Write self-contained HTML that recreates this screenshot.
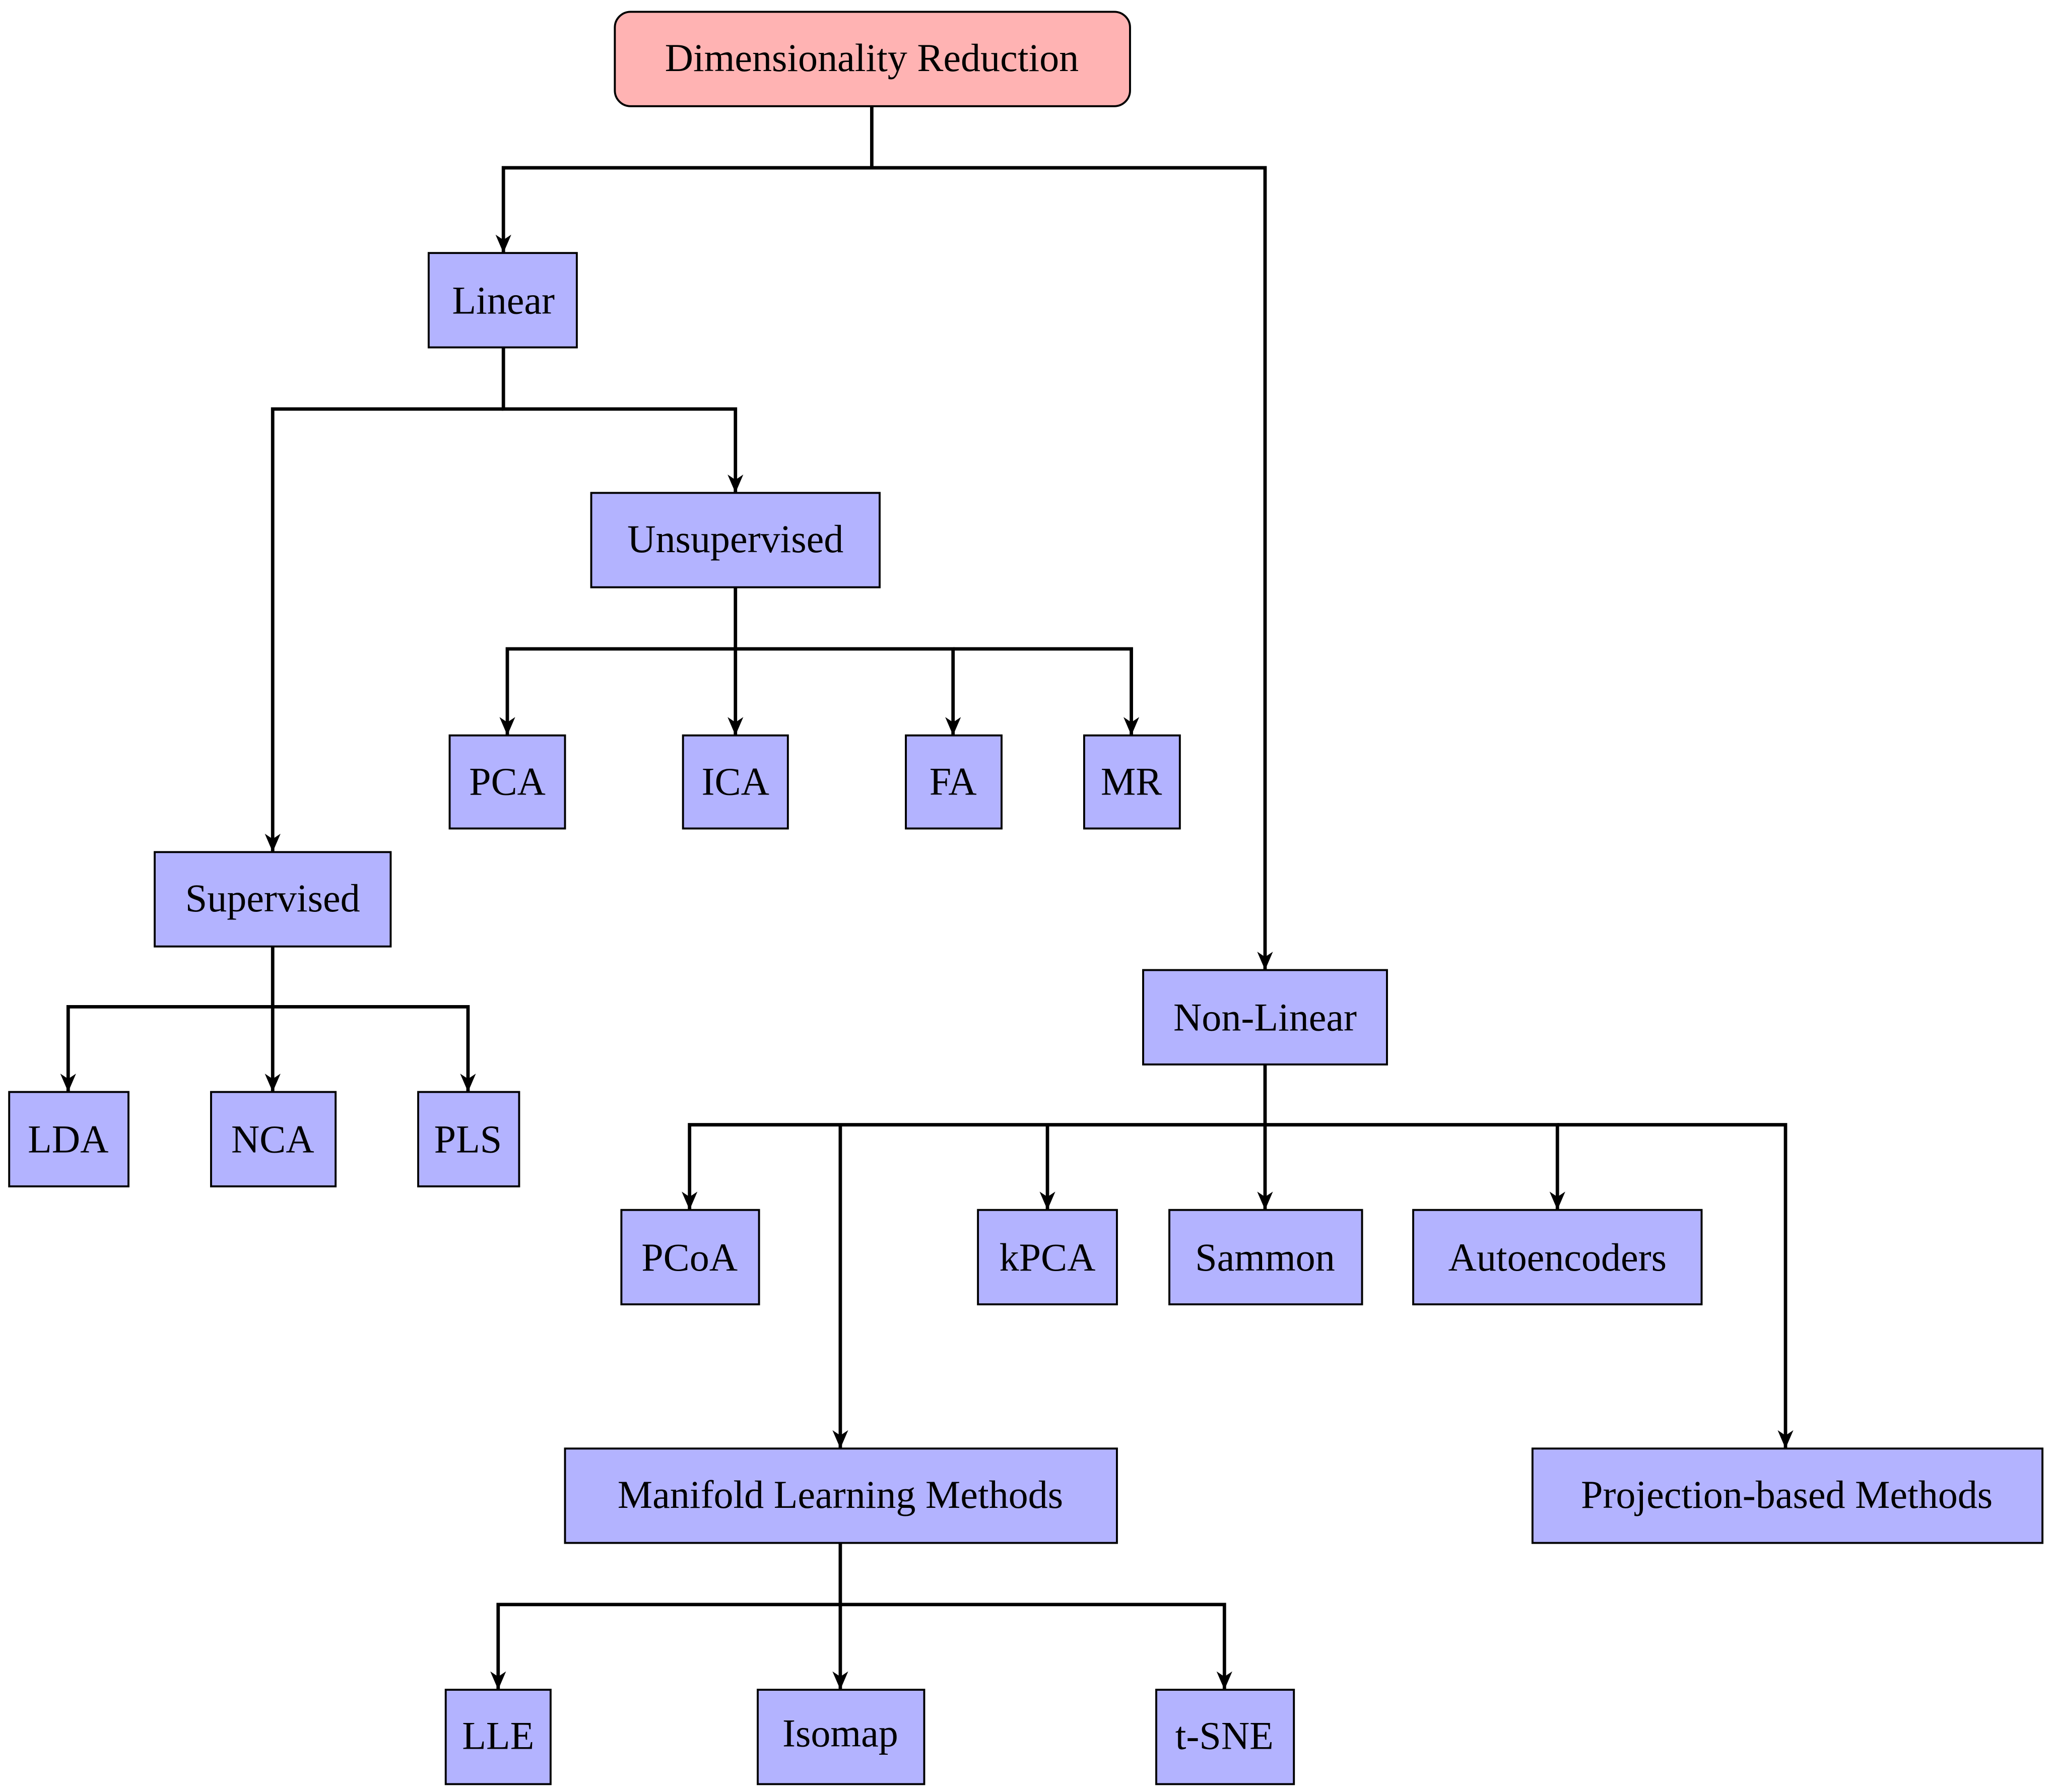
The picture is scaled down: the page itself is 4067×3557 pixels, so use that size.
<!DOCTYPE html>
<html><head><meta charset="utf-8"><style>
html,body{margin:0;padding:0;background:#fff;}
svg{display:block;}
text{font-family:"Liberation Serif",serif;font-size:30px;fill:#000;text-anchor:middle;dominant-baseline:central;}
</style></head><body>
<svg width="4067" height="3557" viewBox="0 0 1563 1367" xmlns="http://www.w3.org/2000/svg">
<defs>
<marker id="a" viewBox="0 0 14 12" refX="14" refY="6" markerWidth="14" markerHeight="12" markerUnits="userSpaceOnUse" orient="auto">
<path d="M0,0 L14,6 L0,12 L4,6 Z" fill="#000"/>
</marker>
</defs>
<g fill="none" stroke="#000" stroke-width="2.6">
<path d="M665,81 V128 H384 V193" marker-end="url(#a)"/>
<path d="M665,128 H965 V740" marker-end="url(#a)"/>
<path d="M384,265 V312 H561 V376" marker-end="url(#a)"/>
<path d="M384,312 H208 V650" marker-end="url(#a)"/>
<path d="M561,448 V495 H387 V561" marker-end="url(#a)"/>
<path d="M561,495 V561" marker-end="url(#a)"/>
<path d="M561,495 H727 V561" marker-end="url(#a)"/>
<path d="M727,495 H863 V561" marker-end="url(#a)"/>
<path d="M208,722 V768 H52 V833" marker-end="url(#a)"/>
<path d="M208,768 V833" marker-end="url(#a)"/>
<path d="M208,768 H357 V833" marker-end="url(#a)"/>
<path d="M965,812 V858 H526 V923" marker-end="url(#a)"/>
<path d="M641,858 V1105" marker-end="url(#a)"/>
<path d="M799,858 V923" marker-end="url(#a)"/>
<path d="M965,858 V923" marker-end="url(#a)"/>
<path d="M965,858 H1188 V923" marker-end="url(#a)"/>
<path d="M1188,858 H1362 V1105" marker-end="url(#a)"/>
<path d="M641,1177 V1224 H380 V1289" marker-end="url(#a)"/>
<path d="M641,1224 V1289" marker-end="url(#a)"/>
<path d="M641,1224 H934 V1289" marker-end="url(#a)"/>
</g>
<g stroke="#000" stroke-width="1.5" fill="#b3b3ff">
<rect x="469" y="9" width="393" height="72" rx="12" fill="#ffb3b3"/>
<rect x="327" y="193" width="113" height="72"/>
<rect x="451" y="376" width="220" height="72"/>
<rect x="343" y="561" width="88" height="71"/>
<rect x="521" y="561" width="80" height="71"/>
<rect x="691" y="561" width="73" height="71"/>
<rect x="827" y="561" width="73" height="71"/>
<rect x="118" y="650" width="180" height="72"/>
<rect x="7" y="833" width="91" height="72"/>
<rect x="161" y="833" width="95" height="72"/>
<rect x="319" y="833" width="77" height="72"/>
<rect x="872" y="740" width="186" height="72"/>
<rect x="474" y="923" width="105" height="72"/>
<rect x="746" y="923" width="106" height="72"/>
<rect x="892" y="923" width="147" height="72"/>
<rect x="1078" y="923" width="220" height="72"/>
<rect x="431" y="1105" width="421" height="72"/>
<rect x="1169" y="1105" width="389" height="72"/>
<rect x="340" y="1289" width="80" height="72"/>
<rect x="578" y="1289" width="127" height="72"/>
<rect x="882" y="1289" width="105" height="72"/>
</g>
<text x="665" y="44">Dimensionality Reduction</text>
<text x="384" y="229">Linear</text>
<text x="561" y="411">Unsupervised</text>
<text x="387" y="596">PCA</text>
<text x="561" y="596">ICA</text>
<text x="727" y="596">FA</text>
<text x="863" y="596">MR</text>
<text x="208" y="685">Supervised</text>
<text x="52" y="869">LDA</text>
<text x="208" y="869">NCA</text>
<text x="357" y="869">PLS</text>
<text x="965" y="776">Non-Linear</text>
<text x="526" y="959">PCoA</text>
<text x="799" y="959">kPCA</text>
<text x="965" y="959">Sammon</text>
<text x="1188" y="959">Autoencoders</text>
<text x="641" y="1140">Manifold Learning Methods</text>
<text x="1363" y="1140">Projection-based Methods</text>
<text x="380" y="1324">LLE</text>
<text x="641" y="1322">Isomap</text>
<text x="934" y="1324">t-SNE</text>
</svg>
</body></html>
